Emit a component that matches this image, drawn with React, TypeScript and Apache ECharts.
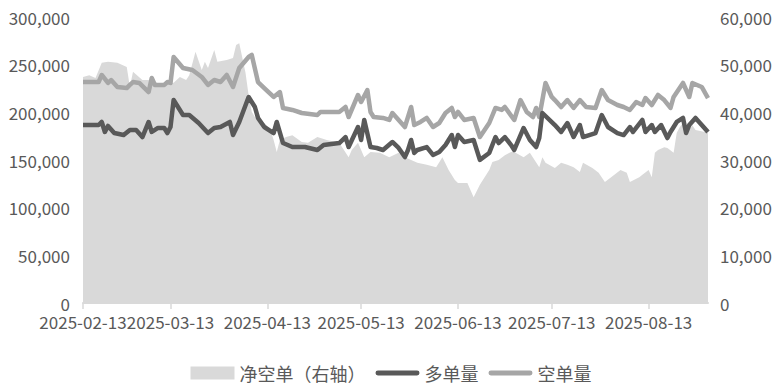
import React, { useEffect, useRef } from "react";
import * as echarts from "echarts";

// x positions are day offsets from 2025-02-13
const xTickDays = [0, 28, 59, 89, 120, 150, 181];
const xTickLabels = ["2025-02-13", "2025-03-13", "2025-04-13", "2025-05-13", "2025-06-13", "2025-07-13", "2025-08-13"];
const xMaxDay = 200;

const seriesNames = ["净空单（右轴）", "多单量", "空单量"];

// 净空单 (right axis)
const netShortData: [number, number][] = [
  [0, 47400], [2, 47800], [4, 47200], [6, 50400], [8, 50600], [11, 50400], [14, 49500], [15, 45300], [16, 48500],
  [19, 46800], [21, 46800], [22, 46200], [23, 46400], [25, 45700], [27, 46200], [29, 46200], [31, 47400], [33, 46800],
  [34, 47800], [36, 52700], [38, 48900], [39, 50600], [40, 49300], [42, 53100], [43, 50600], [46, 51000], [48, 51400],
  [49, 54100], [50, 54500], [51, 51400], [52, 48300], [53, 43600], [54, 40100], [55, 39000], [58, 37800], [60, 36300],
  [61, 34200], [62, 31700], [63, 34200], [65, 34800], [67, 35200], [70, 33800], [72, 33600], [75, 34800], [78, 34200],
  [82, 33600], [85, 30600], [86, 32100], [88, 33600], [90, 30600], [92, 31700], [95, 31500], [98, 30600], [101, 31500],
  [103, 30600], [105, 30000], [107, 29400], [110, 29000], [113, 28500], [115, 30600], [117, 27900], [119, 25800],
  [120, 25200], [123, 25200], [125, 22200], [127, 24800], [130, 27900], [131, 29600], [133, 30000], [135, 31000],
  [137, 31700], [138, 31700], [141, 30600], [143, 31500], [146, 28500], [147, 30600], [148, 29400], [151, 28300],
  [153, 29400], [155, 29000], [157, 28500], [159, 27500], [160, 29400], [163, 28300], [165, 27300], [167, 25400],
  [169, 26400], [172, 27900], [174, 27300], [175, 25400], [178, 26400], [179, 26900], [181, 27900], [182, 26400],
  [183, 31500], [184, 32100], [186, 32700], [187, 32500], [189, 31500], [190, 35700], [191, 36900], [192, 37800],
  [193, 35700], [195, 37300], [196, 36300], [199, 35900], [200, 35700],
];

// 多单量 (left axis)
const longData: [number, number][] = [
  [0, 186700], [5, 186700], [6, 189900], [7, 179400], [8, 185700], [10, 178300], [13, 176200], [15, 181500],
  [17, 181500], [19, 174100], [21, 189900], [22, 179400], [24, 183600], [26, 183600], [27, 178300], [28, 184600],
  [29, 212900], [32, 197200], [34, 197200], [37, 188800], [40, 178300], [42, 183600], [44, 184600], [47, 189900],
  [48, 176200], [50, 189900], [53, 216100], [55, 205600], [56, 194100], [58, 184600], [61, 178300], [62, 189900],
  [64, 167800], [67, 163600], [71, 163600], [75, 160500], [77, 165700], [82, 167800], [84, 174100], [85, 163600],
  [88, 184600], [89, 171000], [90, 192000], [92, 163600], [94, 162600], [96, 160500], [99, 168900], [101, 162600],
  [103, 153100], [104, 160500], [105, 171000], [106, 157400], [107, 160500], [110, 163600], [112, 155300],
  [114, 158400], [116, 165700], [118, 176200], [119, 163600], [120, 176200], [122, 168900], [125, 171000],
  [127, 150100], [130, 157400], [132, 174100], [133, 167800], [135, 174100], [137, 165700], [138, 160500],
  [141, 183600], [143, 171000], [145, 163600], [146, 173000], [147, 199300], [151, 186700], [153, 179400],
  [155, 188800], [157, 174100], [159, 186700], [160, 174100], [164, 178300], [166, 197200], [168, 184600],
  [171, 178300], [173, 176200], [175, 184600], [176, 179400], [179, 192000], [180, 179400], [182, 186700],
  [183, 179400], [185, 186700], [187, 173000], [188, 179400], [190, 189900], [192, 194100], [193, 178300],
  [194, 186700], [196, 194100], [198, 186700], [200, 179400],
];

// 空单量 (left axis)
const shortData: [number, number][] = [
  [0, 231800], [5, 231800], [6, 239200], [8, 230800], [9, 233900], [11, 226600], [14, 225500], [15, 228700],
  [16, 231800], [18, 230800], [21, 221300], [22, 236000], [23, 228700], [26, 228700], [27, 231800], [28, 230800],
  [29, 258100], [32, 246500], [35, 244400], [38, 237100], [40, 228700], [42, 233900], [44, 231800], [46, 239200],
  [48, 226600], [50, 246500], [53, 258100], [54, 260200], [56, 231800], [58, 225500], [61, 216100], [63, 221300],
  [64, 204600], [67, 202500], [70, 199300], [75, 197200], [76, 200400], [82, 200400], [84, 205600], [85, 195100],
  [88, 218200], [89, 210800], [91, 223400], [92, 200400], [93, 195100], [96, 194100], [98, 192000], [99, 199300],
  [101, 192000], [103, 184600], [105, 205600], [106, 186700], [108, 189900], [110, 194100], [112, 184600],
  [114, 188800], [116, 199300], [118, 204600], [119, 195100], [120, 200400], [122, 192000], [125, 194100],
  [127, 174100], [130, 188800], [132, 204600], [134, 202500], [135, 205600], [138, 192000], [140, 212900],
  [142, 200400], [144, 195100], [145, 204600], [146, 195100], [148, 230800], [150, 216100], [151, 212900],
  [153, 205600], [155, 212900], [157, 204600], [159, 212900], [161, 205600], [164, 204600], [166, 223400],
  [168, 212900], [171, 207700], [173, 205600], [175, 202500], [177, 210800], [179, 207700], [180, 215000],
  [182, 207700], [184, 218200], [186, 212900], [188, 204600], [189, 216100], [192, 230800], [194, 216100],
  [195, 230800], [198, 226600], [200, 215000],
];

const leftTicks = { min: 0, max: 300000, interval: 50000 };
const rightTicks = { min: 0, max: 60000, interval: 10000 };

const FONT = "'Noto Sans CJK SC', 'Liberation Sans', sans-serif";
const TEXT = "#595959";
const NET_COLOR = "#d9d9d9";
const LONG_COLOR = "#595959";
const SHORT_COLOR = "#a6a6a6";
const LINE_ICON = "path://M2,0 L42,0 A2.5,2.5 0 0 1 42,5 L2,5 A2.5,2.5 0 0 1 2,0 Z";

const fmt = (v: number) => v.toLocaleString("en-US");

export default function App() {
  const ref = useRef<HTMLDivElement>(null);

  useEffect(() => {
    if (!ref.current) return;
    const chart = echarts.init(ref.current, undefined, { renderer: "svg" });
    chart.setOption({
      animation: false,
      backgroundColor: "#ffffff",
      textStyle: { fontFamily: FONT },
      grid: { left: 83, right: 74, top: 17, bottom: 87 },
      legend: {
        left: "center",
        top: 359,
        itemWidth: 44,
        itemHeight: 13,
        itemGap: 10,
        symbolKeepAspect: true,
        textStyle: { fontFamily: FONT, fontSize: 18, color: TEXT },
        data: [
          { name: seriesNames[0], icon: "rect", itemStyle: { color: NET_COLOR } },
          { name: seriesNames[1], icon: LINE_ICON, itemStyle: { color: LONG_COLOR, borderWidth: 0 } },
          { name: seriesNames[2], icon: LINE_ICON, itemStyle: { color: SHORT_COLOR, borderWidth: 0 } },
        ],
      },
      xAxis: {
        type: "value",
        min: 0,
        max: xMaxDay,
        splitLine: { show: false },
        axisLine: { show: true, onZero: false, lineStyle: { color: NET_COLOR, width: 2 } },
        axisTick: { show: true, length: 6, customValues: xTickDays, lineStyle: { color: NET_COLOR, width: 1.5 } },
        axisLabel: {
          customValues: xTickDays,
          margin: 10,
          fontSize: 17,
          color: TEXT,
          fontFamily: FONT,
          formatter: (v: number) => {
            const i = xTickDays.indexOf(Math.round(v));
            return i >= 0 ? xTickLabels[i] : "";
          },
        },
      },
      yAxis: [
        {
          type: "value",
          ...leftTicks,
          splitLine: { show: false },
          axisLine: { show: false },
          axisTick: { show: false },
          axisLabel: { margin: 13, fontSize: 17, color: TEXT, fontFamily: FONT, formatter: fmt },
        },
        {
          type: "value",
          position: "right",
          ...rightTicks,
          splitLine: { show: false },
          axisLine: { show: false },
          axisTick: { show: false },
          axisLabel: { margin: 12, fontSize: 17, color: TEXT, fontFamily: FONT, formatter: fmt },
        },
      ],
      series: [
        {
          name: seriesNames[0],
          type: "line",
          yAxisIndex: 1,
          data: netShortData,
          symbol: "none",
          lineStyle: { width: 0, color: NET_COLOR },
          itemStyle: { color: NET_COLOR },
          areaStyle: { color: NET_COLOR, opacity: 1 },
          z: 1,
        },
        {
          name: seriesNames[1],
          type: "line",
          yAxisIndex: 0,
          data: longData,
          symbol: "none",
          lineStyle: { width: 4.5, color: LONG_COLOR, join: "round" },
          itemStyle: { color: LONG_COLOR },
          z: 3,
        },
        {
          name: seriesNames[2],
          type: "line",
          yAxisIndex: 0,
          data: shortData,
          symbol: "none",
          lineStyle: { width: 4.5, color: SHORT_COLOR, join: "round" },
          itemStyle: { color: SHORT_COLOR },
          z: 2,
        },
      ],
    });
    return () => chart.dispose();
  }, []);

  return (
    <div
      ref={ref}
      style={{ position: "absolute", left: 0, top: 0, width: 782, height: 390 }}
    />
  );
}
